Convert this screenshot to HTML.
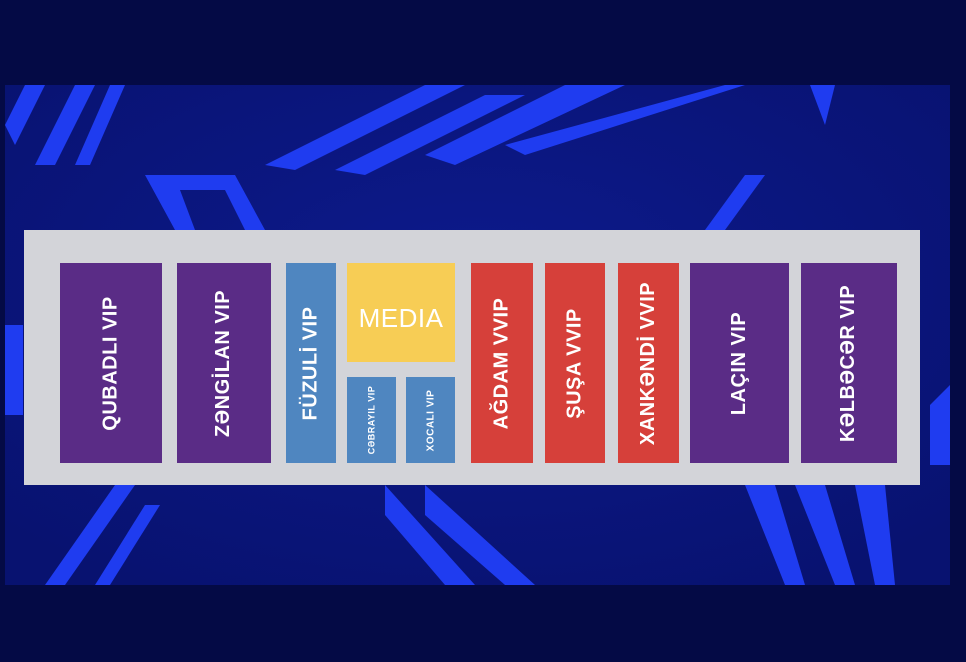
<!DOCTYPE html>
<html><head><meta charset="utf-8"><style>
html,body{margin:0;padding:0;}
body{width:966px;height:662px;background:#040a45;position:relative;overflow:hidden;font-family:"Liberation Sans",sans-serif;}
.bg{position:absolute;left:5px;top:85px;width:945px;height:500px;overflow:hidden;}
.panel{position:absolute;left:24px;top:230px;width:896px;height:255px;background:#d3d4d9;}
.b{position:absolute;display:flex;align-items:center;justify-content:center;color:#fff;font-weight:bold;}
.b span{transform:rotate(-90deg);white-space:nowrap;letter-spacing:0.5px;}
.p{background:#5a2c86;}.bl{background:#4f86c0;}.r{background:#d6403a;}
</style></head><body>
<div class="bg">
<svg width="945" height="500" viewBox="0 0 945 500">
<defs><radialGradient id="g" cx="0.5" cy="0.4" r="0.7"><stop offset="0" stop-color="#0d1a8c"/><stop offset="1" stop-color="#081270"/></radialGradient></defs>
<rect width="945" height="500" fill="url(#g)"/>
<g fill="#1f3cf0">
<polygon points="0,40 20,0 40,0 10,60"/>
<polygon points="30,80 70,0 90,0 50,80"/>
<polygon points="70,80 105,0 120,0 85,80"/>
<polygon points="140,90 230,90 260,145 240,145 220,105 175,105 190,145 170,145"/>
<polygon points="260,80 420,0 460,0 290,85"/>
<polygon points="330,85 480,10 520,10 360,90"/>
<polygon points="420,70 560,0 620,0 450,80"/>
<polygon points="500,60 720,0 740,0 520,70"/>
<polygon points="805,0 830,0 820,40"/>
<polygon points="700,145 740,90 760,90 720,145"/>
<polygon points="40,500 110,400 130,400 60,500"/>
<polygon points="90,500 140,420 155,420 105,500"/>
<polygon points="380,400 470,500 440,500 380,430"/>
<polygon points="420,400 530,500 500,500 420,430"/>
<polygon points="740,400 780,500 800,500 770,400"/>
<polygon points="790,400 830,500 850,500 820,400"/>
<polygon points="850,400 870,500 890,500 880,400"/>
<polygon points="925,320 945,300 945,380 925,380"/>
<polygon points="0,240 18,240 18,330 0,330"/>
</g>
</svg>
</div>
<div class="panel"></div>
<div class="b p" style="left:60px;top:263px;width:102px;height:200px;font-size:20px"><span>QUBADLI VIP</span></div>
<div class="b p" style="left:177px;top:263px;width:94px;height:200px;font-size:20px"><span>ZƏNGİLAN VIP</span></div>
<div class="b bl" style="left:286px;top:263px;width:50px;height:200px;font-size:20px"><span>FÜZULİ VIP</span></div>
<div class="b" style="left:347px;top:263px;width:108px;height:99px;background:#f7cd55;font-size:26px;font-weight:normal"><span style="transform:translateY(6px)">MEDIA</span></div>
<div class="b bl" style="left:347px;top:377px;width:49px;height:86px;font-size:9px"><span>CƏBRAYIL VIP</span></div>
<div class="b bl" style="left:406px;top:377px;width:49px;height:86px;font-size:10px"><span>XOCALI VIP</span></div>
<div class="b r" style="left:471px;top:263px;width:62px;height:200px;font-size:20px"><span>AĞDAM VVIP</span></div>
<div class="b r" style="left:545px;top:263px;width:60px;height:200px;font-size:20px"><span>ŞUŞA VVIP</span></div>
<div class="b r" style="left:618px;top:263px;width:61px;height:200px;font-size:20px"><span>XANKƏNDİ VVIP</span></div>
<div class="b p" style="left:690px;top:263px;width:99px;height:200px;font-size:20px"><span>LAÇIN VIP</span></div>
<div class="b p" style="left:801px;top:263px;width:96px;height:200px;font-size:20px"><span>KƏLBƏCƏR VIP</span></div>
</body></html>
